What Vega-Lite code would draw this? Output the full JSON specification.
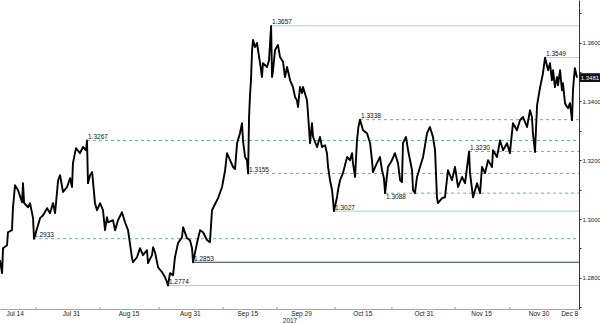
{
  "$schema": "https://vega.github.io/schema/vega-lite/v6.json",
  "width": 579,
  "height": 309,
  "autosize": {"type": "none"},
  "padding": {"left": 0, "top": 0, "right": 21, "bottom": 14},
  "background": "white",
  "config": {"view": {"stroke": null}, "font": "Liberation Sans"},
  "datasets": {
    "price": [
      {"t":"2017-07-12T11:00","v":1.2860},{"t":"2017-07-13T00:00","v":1.2816},{"t":"2017-07-13T06:00","v":1.2901},
      {"t":"2017-07-14T07:00","v":1.2911},{"t":"2017-07-14T13:00","v":1.2955},{"t":"2017-07-15T14:00","v":1.2962},
      {"t":"2017-07-15T20:00","v":1.3037},{"t":"2017-07-16T09:00","v":1.3115},{"t":"2017-07-17T04:00","v":1.3098},
      {"t":"2017-07-18T05:00","v":1.3057},{"t":"2017-07-18T11:00","v":1.3122},{"t":"2017-07-18T18:00","v":1.3054},
      {"t":"2017-07-19T19:00","v":1.3040},{"t":"2017-07-20T07:00","v":1.3054},{"t":"2017-07-21T02:00","v":1.3003},
      {"t":"2017-07-21T08:00","v":1.2933},{"t":"2017-07-22T09:00","v":1.2979},{"t":"2017-07-22T22:00","v":1.3003},
      {"t":"2017-07-23T17:00","v":1.3013},{"t":"2017-07-24T18:00","v":1.3037},{"t":"2017-07-25T12:00","v":1.3020},
      {"t":"2017-07-26T07:00","v":1.3054},{"t":"2017-07-26T20:00","v":1.3020},{"t":"2017-07-27T15:00","v":1.3132},
      {"t":"2017-07-28T03:00","v":1.3149},{"t":"2017-07-28T22:00","v":1.3092},{"t":"2017-07-29T23:00","v":1.3109},
      {"t":"2017-07-30T18:00","v":1.3139},{"t":"2017-07-31T06:00","v":1.3109},{"t":"2017-07-31T12:00","v":1.3190},
      {"t":"2017-08-01T07:00","v":1.3241},{"t":"2017-08-02T08:00","v":1.3224},{"t":"2017-08-03T03:00","v":1.3245},
      {"t":"2017-08-03T22:00","v":1.3234},{"t":"2017-08-04T04:00","v":1.3267},{"t":"2017-08-04T10:00","v":1.3122},
      {"t":"2017-08-04T23:00","v":1.3149},{"t":"2017-08-05T12:00","v":1.3160},{"t":"2017-08-06T06:00","v":1.3054},
      {"t":"2017-08-06T19:00","v":1.3030},{"t":"2017-08-07T14:00","v":1.3054},{"t":"2017-08-08T08:00","v":1.3030},
      {"t":"2017-08-08T21:00","v":1.2962},{"t":"2017-08-09T09:00","v":1.3006},{"t":"2017-08-09T16:00","v":1.2989},
      {"t":"2017-08-10T23:00","v":1.2996},{"t":"2017-08-11T12:00","v":1.2962},{"t":"2017-08-12T06:00","v":1.2996},
      {"t":"2017-08-13T07:00","v":1.3023},{"t":"2017-08-14T02:00","v":1.2989},{"t":"2017-08-14T21:00","v":1.2962},
      {"t":"2017-08-15T22:00","v":1.2867},{"t":"2017-08-16T04:00","v":1.2853},{"t":"2017-08-17T05:00","v":1.2870},
      {"t":"2017-08-18T00:00","v":1.2901},{"t":"2017-08-18T19:00","v":1.2877},{"t":"2017-08-19T20:00","v":1.2894},
      {"t":"2017-08-20T02:00","v":1.2850},{"t":"2017-08-21T03:00","v":1.2877},{"t":"2017-08-21T10:00","v":1.2904},
      {"t":"2017-08-21T22:00","v":1.2887},{"t":"2017-08-22T17:00","v":1.2836},{"t":"2017-08-23T18:00","v":1.2819},
      {"t":"2017-08-24T13:00","v":1.2802},{"t":"2017-08-25T01:00","v":1.2785},{"t":"2017-08-25T07:00","v":1.2774},
      {"t":"2017-08-25T20:00","v":1.2816},{"t":"2017-08-26T15:00","v":1.2809},{"t":"2017-08-27T03:00","v":1.2870},
      {"t":"2017-08-27T22:00","v":1.2918},{"t":"2017-08-28T23:00","v":1.2938},{"t":"2017-08-29T06:00","v":1.2972},
      {"t":"2017-08-30T06:00","v":1.2935},{"t":"2017-08-31T01:00","v":1.2928},{"t":"2017-08-31T14:00","v":1.2901},
      {"t":"2017-08-31T20:00","v":1.2853},{"t":"2017-09-01T21:00","v":1.2918},{"t":"2017-09-02T16:00","v":1.2962},
      {"t":"2017-09-03T11:00","v":1.2955},{"t":"2017-09-04T12:00","v":1.2928},{"t":"2017-09-05T06:00","v":1.2921},
      {"t":"2017-09-05T19:00","v":1.3030},{"t":"2017-09-06T14:00","v":1.3051},{"t":"2017-09-07T09:00","v":1.3071},
      {"t":"2017-09-08T10:00","v":1.3109},{"t":"2017-09-09T05:00","v":1.3166},{"t":"2017-09-09T17:00","v":1.3224},
      {"t":"2017-09-10T12:00","v":1.3200},{"t":"2017-09-11T07:00","v":1.3177},{"t":"2017-09-11T19:00","v":1.3170},
      {"t":"2017-09-12T08:00","v":1.3258},{"t":"2017-09-13T02:00","v":1.3292},{"t":"2017-09-13T15:00","v":1.3326},
      {"t":"2017-09-13T21:00","v":1.3267},{"t":"2017-09-14T10:00","v":1.3211},{"t":"2017-09-14T22:00","v":1.3200},
      {"t":"2017-09-15T05:00","v":1.3155},{"t":"2017-09-15T11:00","v":1.3347},{"t":"2017-09-15T17:00","v":1.3421},
      {"t":"2017-09-15T23:00","v":1.3472},{"t":"2017-09-16T06:00","v":1.3575},{"t":"2017-09-16T12:00","v":1.3609},
      {"t":"2017-09-17T00:00","v":1.3585},{"t":"2017-09-17T13:00","v":1.3599},{"t":"2017-09-17T19:00","v":1.3575},
      {"t":"2017-09-18T08:00","v":1.3530},{"t":"2017-09-18T20:00","v":1.3483},{"t":"2017-09-19T02:00","v":1.3530},
      {"t":"2017-09-20T04:00","v":1.3517},{"t":"2017-09-20T16:00","v":1.3540},{"t":"2017-09-21T05:00","v":1.3657},
      {"t":"2017-09-21T11:00","v":1.3483},{"t":"2017-09-21T17:00","v":1.3506},{"t":"2017-09-22T06:00","v":1.3575},
      {"t":"2017-09-23T00:00","v":1.3592},{"t":"2017-09-23T13:00","v":1.3551},{"t":"2017-09-24T08:00","v":1.3534},
      {"t":"2017-09-24T20:00","v":1.3483},{"t":"2017-09-25T09:00","v":1.3517},{"t":"2017-09-26T04:00","v":1.3472},
      {"t":"2017-09-26T22:00","v":1.3449},{"t":"2017-09-27T11:00","v":1.3415},{"t":"2017-09-27T23:00","v":1.3404},
      {"t":"2017-09-28T06:00","v":1.3381},{"t":"2017-09-28T18:00","v":1.3449},{"t":"2017-09-29T07:00","v":1.3428},
      {"t":"2017-09-29T13:00","v":1.3449},{"t":"2017-09-30T14:00","v":1.3404},{"t":"2017-09-30T20:00","v":1.3360},
      {"t":"2017-10-01T09:00","v":1.3258},{"t":"2017-10-01T21:00","v":1.3326},{"t":"2017-10-02T04:00","v":1.3279},
      {"t":"2017-10-03T05:00","v":1.3245},{"t":"2017-10-03T23:00","v":1.3279},{"t":"2017-10-04T12:00","v":1.3245},
      {"t":"2017-10-05T07:00","v":1.3251},{"t":"2017-10-05T19:00","v":1.3224},{"t":"2017-10-06T02:00","v":1.3177},
      {"t":"2017-10-06T14:00","v":1.3132},{"t":"2017-10-07T03:00","v":1.3098},{"t":"2017-10-07T09:00","v":1.3064},
      {"t":"2017-10-07T15:00","v":1.3027},{"t":"2017-10-08T10:00","v":1.3074},{"t":"2017-10-08T16:00","v":1.3098},
      {"t":"2017-10-09T05:00","v":1.3132},{"t":"2017-10-09T23:00","v":1.3156},{"t":"2017-10-11T01:00","v":1.3211},
      {"t":"2017-10-11T19:00","v":1.3200},{"t":"2017-10-12T08:00","v":1.3224},{"t":"2017-10-12T14:00","v":1.3190},
      {"t":"2017-10-13T03:00","v":1.3143},{"t":"2017-10-13T15:00","v":1.3267},{"t":"2017-10-14T00:00","v":1.3313},
      {"t":"2017-10-14T10:00","v":1.3338},{"t":"2017-10-15T05:00","v":1.3302},{"t":"2017-10-16T06:00","v":1.3292},
      {"t":"2017-10-17T01:00","v":1.3258},{"t":"2017-10-17T13:00","v":1.3200},{"t":"2017-10-17T19:00","v":1.3160},
      {"t":"2017-10-18T20:00","v":1.3190},{"t":"2017-10-19T15:00","v":1.3211},{"t":"2017-10-20T04:00","v":1.3166},
      {"t":"2017-10-20T16:00","v":1.3139},{"t":"2017-10-20T23:00","v":1.3088},{"t":"2017-10-21T17:00","v":1.3177},
      {"t":"2017-10-22T18:00","v":1.3200},{"t":"2017-10-23T13:00","v":1.3224},{"t":"2017-10-24T08:00","v":1.3190},
      {"t":"2017-10-24T21:00","v":1.3132},{"t":"2017-10-25T09:00","v":1.3126},{"t":"2017-10-25T15:00","v":1.3258},
      {"t":"2017-10-26T10:00","v":1.3279},{"t":"2017-10-26T23:00","v":1.3234},{"t":"2017-10-28T00:00","v":1.3166},
      {"t":"2017-10-28T06:00","v":1.3098},{"t":"2017-10-28T18:00","v":1.3088},{"t":"2017-10-29T07:00","v":1.3143},
      {"t":"2017-10-30T02:00","v":1.3177},{"t":"2017-10-30T21:00","v":1.3211},{"t":"2017-10-31T22:00","v":1.3292},
      {"t":"2017-11-01T16:00","v":1.3313},{"t":"2017-11-02T11:00","v":1.3279},{"t":"2017-11-03T00:00","v":1.3234},
      {"t":"2017-11-03T12:00","v":1.3074},{"t":"2017-11-03T18:00","v":1.3054},{"t":"2017-11-04T20:00","v":1.3071},
      {"t":"2017-11-05T14:00","v":1.3074},{"t":"2017-11-06T09:00","v":1.3166},{"t":"2017-11-07T10:00","v":1.3132},
      {"t":"2017-11-08T05:00","v":1.3177},{"t":"2017-11-09T00:00","v":1.3109},{"t":"2017-11-10T01:00","v":1.3143},
      {"t":"2017-11-10T20:00","v":1.3122},{"t":"2017-11-11T21:00","v":1.3230},{"t":"2017-11-12T03:00","v":1.3156},
      {"t":"2017-11-12T22:00","v":1.3074},{"t":"2017-11-13T23:00","v":1.3122},{"t":"2017-11-14T18:00","v":1.3088},
      {"t":"2017-11-15T06:00","v":1.3177},{"t":"2017-11-16T01:00","v":1.3156},{"t":"2017-11-16T20:00","v":1.3200},
      {"t":"2017-11-17T21:00","v":1.3177},{"t":"2017-11-18T03:00","v":1.3234},{"t":"2017-11-19T04:00","v":1.3211},
      {"t":"2017-11-19T23:00","v":1.3267},{"t":"2017-11-20T18:00","v":1.3234},{"t":"2017-11-21T19:00","v":1.3258},
      {"t":"2017-11-22T13:00","v":1.3224},{"t":"2017-11-23T08:00","v":1.3326},{"t":"2017-11-24T09:00","v":1.3302},
      {"t":"2017-11-25T04:00","v":1.3336},{"t":"2017-11-25T23:00","v":1.3347},{"t":"2017-11-27T00:00","v":1.3313},
      {"t":"2017-11-27T19:00","v":1.3370},{"t":"2017-11-28T07:00","v":1.3347},{"t":"2017-11-28T13:00","v":1.3292},
      {"t":"2017-11-29T02:00","v":1.3228},{"t":"2017-11-29T15:00","v":1.3387},{"t":"2017-11-30T09:00","v":1.3445},
      {"t":"2017-12-01T04:00","v":1.3496},{"t":"2017-12-01T17:00","v":1.3549},{"t":"2017-12-02T12:00","v":1.3506},
      {"t":"2017-12-03T00:00","v":1.3530},{"t":"2017-12-03T12:00","v":1.3472},{"t":"2017-12-03T19:00","v":1.3506},
      {"t":"2017-12-04T07:00","v":1.3449},{"t":"2017-12-04T20:00","v":1.3483},{"t":"2017-12-05T02:00","v":1.3455},
      {"t":"2017-12-05T15:00","v":1.3506},{"t":"2017-12-06T03:00","v":1.3438},{"t":"2017-12-06T09:00","v":1.3462},
      {"t":"2017-12-06T22:00","v":1.3394},{"t":"2017-12-07T11:00","v":1.3381},{"t":"2017-12-07T17:00","v":1.3377},
      {"t":"2017-12-08T05:00","v":1.3394},{"t":"2017-12-08T18:00","v":1.3336},{"t":"2017-12-09T00:00","v":1.3438},
      {"t":"2017-12-09T06:00","v":1.3479},{"t":"2017-12-09T12:00","v":1.3513},{"t":"2017-12-09T19:00","v":1.3496},
      {"t":"2017-12-10T01:00","v":1.3481}
    ],
    "levels": [
      {"v":1.3657,"t":"2017-09-21T05:00","t2":"2017-12-10T13:40","kind":"solid"},
      {"v":1.3549,"t":"2017-12-01T17:00","t2":"2017-12-10T13:40","kind":"solid"},
      {"v":1.3338,"t":"2017-10-14T10:00","t2":"2017-12-10T13:40","kind":"dash"},
      {"v":1.3267,"t":"2017-08-04T04:00","t2":"2017-12-10T13:40","kind":"dash"},
      {"v":1.3230,"t":"2017-11-11T21:00","t2":"2017-12-10T13:40","kind":"dash"},
      {"v":1.3155,"t":"2017-09-15T05:00","t2":"2017-12-10T13:40","kind":"dash"},
      {"v":1.3088,"t":"2017-10-20T23:00","t2":"2017-12-10T13:40","kind":"dash"},
      {"v":1.3027,"t":"2017-10-07T15:00","t2":"2017-12-10T13:40","kind":"solid"},
      {"v":1.2933,"t":"2017-07-21T02:00","t2":"2017-12-10T13:40","kind":"dash"},
      {"v":1.2853,"t":"2017-08-31T20:00","t2":"2017-12-10T13:40","kind":"dark"},
      {"v":1.2774,"t":"2017-08-25T07:00","t2":"2017-12-10T13:40","kind":"solid"}
    ],
    "ticks": [
      {"t":"2017-07-21T21:00","v":1.2694,"v2":1.2701},{"t":"2017-08-07T14:00","v":1.2694,"v2":1.2701},
      {"t":"2017-08-22T23:00","v":1.2694,"v2":1.2701},{"t":"2017-09-08T16:00","v":1.2694,"v2":1.2701},
      {"t":"2017-09-22T18:00","v":1.2694,"v2":1.2701},{"t":"2017-10-07T21:00","v":1.2694,"v2":1.2701},
      {"t":"2017-10-22T18:00","v":1.2694,"v2":1.2701},{"t":"2017-11-08T05:00","v":1.2694,"v2":1.2701},
      {"t":"2017-11-22T13:00","v":1.2694,"v2":1.2701}
    ],
    "last": [
      {"t":"2017-12-10T16:50","t2":"2017-12-16T01:00","v":1.3466,"v2":1.3496,"tm":"2017-12-13T10:00","price":1.3481}
    ]
  },
  "encoding": {
    "x": {
      "field": "t", "type": "temporal", "title": "2017",
      "scale": {"domain": [{"year":2017,"month":7,"date":12,"hours":11}, {"year":2017,"month":12,"date":10,"hours":13,"minutes":40}]},
      "axis": {
        "values": [
          {"year":2017,"month":7,"date":14},{"year":2017,"month":7,"date":31},{"year":2017,"month":8,"date":15},
          {"year":2017,"month":8,"date":31},{"year":2017,"month":9,"date":15},{"year":2017,"month":9,"date":29},
          {"year":2017,"month":10,"date":15},{"year":2017,"month":10,"date":31},{"year":2017,"month":11,"date":15},
          {"year":2017,"month":11,"date":30},{"year":2017,"month":12,"date":8}
        ],
        "format": "%b %-d", "ticks": false, "grid": false, "labelFlush": 8, "labelOverlap": false,
        "labelFontSize": 6.5, "labelColor": "#222", "labelPadding": 1.5,
        "domainColor": "#aaa", "titleFontSize": 6.5, "titleFontWeight": "normal", "titleColor": "#222", "titlePadding": 0
      }
    },
    "y": {
      "field": "v", "type": "quantitative", "title": null,
      "scale": {"domain": [1.2694, 1.3745], "nice": false, "zero": false},
      "axis": {
        "orient": "right", "grid": false,
        "values": [1.27,1.28,1.29,1.30,1.31,1.32,1.33,1.34,1.35,1.36,1.37],
        "labelExpr": "abs(datum.value*50 - round(datum.value*50)) < 0.01 ? format(datum.value, '.4f') : ''",
        "tickSize": 2, "tickColor": "#333", "domainColor": "#333",
        "labelFontSize": 6, "labelColor": "#222", "labelPadding": 1
      }
    }
  },
  "layer": [
    {
      "data": {"name": "levels"},
      "mark": {"type": "rule", "strokeWidth": 1},
      "encoding": {
        "x2": {"field": "t2"},
        "color": {"field": "kind", "type": "nominal", "legend": null,
                  "scale": {"domain": ["dash","solid","dark"], "range": ["#5fb7a2","#9bd3c5","#2b3a36"]}},
        "strokeDash": {"field": "kind", "type": "nominal", "legend": null,
                       "scale": {"domain": ["dash","solid","dark"], "range": [[3,3],[1,0],[1,0]]}}
      }
    },
    {
      "data": {"name": "ticks"},
      "mark": {"type": "rule", "color": "#999", "strokeWidth": 1},
      "encoding": {"y2": {"field": "v2"}}
    },
    {
      "data": {"name": "price"},
      "mark": {"type": "line", "color": "#000", "strokeWidth": 1.9, "strokeJoin": "round"},
      "encoding": {}
    },
    {
      "data": {"name": "levels"},
      "transform": [{"filter": "datum.v != 1.3088"}],
      "mark": {"type": "text", "align": "left", "baseline": "middle", "dx": 1, "dy": -3.5, "fontSize": 6.5, "color": "#111"},
      "encoding": {"text": {"field": "v", "type": "quantitative", "format": ".4f"}}
    },
    {
      "data": {"name": "levels"},
      "transform": [{"filter": "datum.v == 1.3088"}],
      "mark": {"type": "text", "align": "left", "baseline": "middle", "dx": 1, "dy": 4, "fontSize": 6.5, "color": "#111"},
      "encoding": {"text": {"field": "v", "type": "quantitative", "format": ".4f"}}
    },
    {
      "data": {"name": "last"},
      "mark": {"type": "rect", "color": "#111"},
      "encoding": {"x2": {"field": "t2"}, "y2": {"field": "v2"}}
    },
    {
      "data": {"name": "last"},
      "mark": {"type": "text", "align": "center", "baseline": "middle", "fontSize": 6, "color": "white"},
      "encoding": {
        "x": {"field": "tm", "type": "temporal"},
        "y": {"field": "price", "type": "quantitative"},
        "text": {"field": "price", "type": "quantitative", "format": ".4f"}
      }
    }
  ]
}
